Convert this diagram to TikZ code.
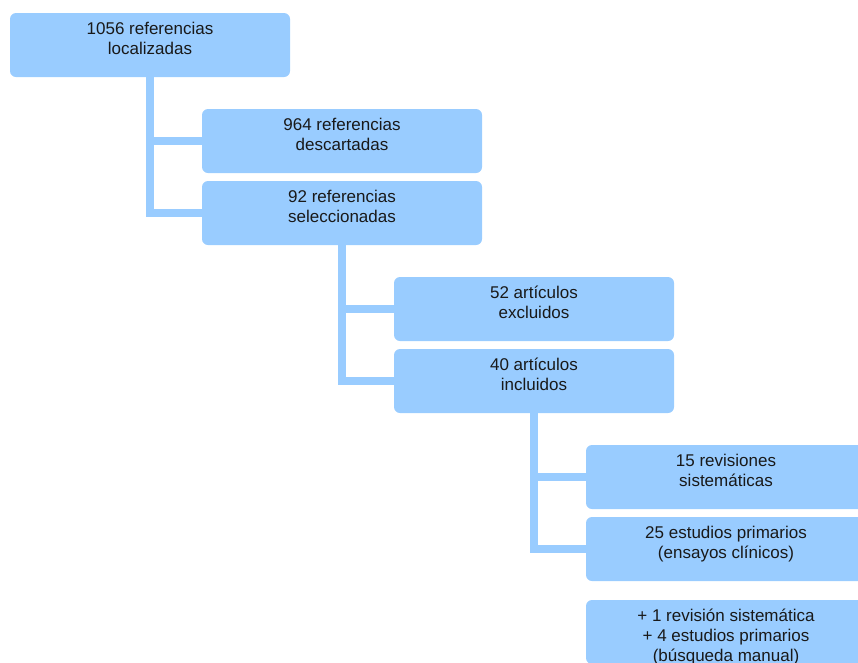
\documentclass[tikz,border=0pt]{standalone}
\usepackage{fontspec}
\setmainfont{Liberation Sans}
\usepackage{tikz}
\definecolor{boxblue}{RGB}{153,204,255}
\definecolor{textdark}{RGB}{25,25,25}
\newcommand{\boxtxt}[1]{\parbox[c][46pt][t]{270pt}{\centering #1}}
\tikzset{
  refbox/.style={fill=boxblue, rounded corners=6pt, inner sep=0pt,
    minimum width=280pt, minimum height=64pt, text=textdark,
    font=\fontsize{17}{20}\selectfont},
  link/.style={draw=boxblue, line width=8pt}
}

\begin{document}
\begin{tikzpicture}[x=1pt, y=-1pt]
		%%%%% START %%%%%
		\useasboundingbox (0,0) rectangle (858,662);
		\clip (0,0) rectangle (858,662);
		
		\node[refbox] (loc) at (150, 45) {\boxtxt{1056 referencias\\localizadas}};
		\node[refbox] (desc) at (342, 141) {\boxtxt{964 referencias\\descartadas}};
		\node[refbox] (sel) at (342, 213) {\boxtxt{92 referencias\\seleccionadas}};
		\node[refbox] (excl) at (534, 309) {\boxtxt{52 artículos\\excluidos}};
		\node[refbox] (incl) at (534, 381) {\boxtxt{40 artículos\\incluidos}};
		\node[refbox] (rev) at (726, 477) {\boxtxt{15 revisiones\\sistemáticas}};
		\node[refbox] (prim) at (726, 549) {\boxtxt{25 estudios primarios\\(ensayos clínicos)}};
		\node[refbox] (man) at (726, 632) {\boxtxt{+ 1 revisión sistemática\\+ 4 estudios primarios\\(búsqueda manual)}};
		
		\draw[link] (loc.south) |- (sel.west);
		\draw[link] (loc.south |- desc.west) -- (desc.west);
		
		\draw[link] (sel.south) |- (incl.west);
		\draw[link] (sel.south |- excl.west) -- (excl.west);
		
		\draw[link] (incl.south) |- (prim.west);
		\draw[link] (incl.south |- rev.west) -- (rev.west);
		
		%%%%% END %%%%%
	\end{tikzpicture}
\end{document}
